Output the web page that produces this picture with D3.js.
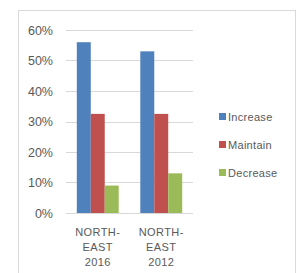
<!DOCTYPE html>
<html>
<head>
<meta charset="utf-8">
<script src="https://cdn.jsdelivr.net/npm/d3@7"></script>
<style>
  body { margin: 0; background: #fff; }
</style>
</head>
<body>
<div id="chart"></div>
<script>
const groups = ["NORTH-EAST 2016", "NORTH-EAST 2012"];
const groupLines = [["NORTH-", "EAST", "2016"], ["NORTH-", "EAST", "2012"]];
const seriesNames = ["Increase", "Maintain", "Decrease"];
const increase = [0.56, 0.53];
const maintain = [0.325, 0.325];
const decrease = [0.09, 0.13];
const yTicks = [0, 0.1, 0.2, 0.3, 0.4, 0.5, 0.6];
const colors = ["#4F81BD", "#C0504D", "#9BBB59"];

const values = [increase, maintain, decrease];
const rows = groups.map((g, i) => ({ group: g, vals: values.map(v => v[i]) }));

const W = 297, H = 273;
const svg = d3.select("#chart").append("svg")
    .attr("width", W).attr("height", H);

// chart area border
svg.append("rect")
    .attr("x", 18.5).attr("y", 10.5)
    .attr("width", 277).attr("height", 280)
    .attr("fill", "#fff")
    .attr("stroke", "#d9d9d9");

const plot = { left: 66, right: 193, top: 30, bottom: 213 };

const x = d3.scaleBand()
    .domain(groups)
    .range([plot.left, plot.right])
    .paddingInner(0.34)
    .paddingOuter(0.17);

const xs = d3.scaleBand()
    .domain(seriesNames)
    .range([0, x.bandwidth()]);

const y = d3.scaleLinear()
    .domain([0, 0.6])
    .range([plot.bottom, plot.top]);

// gridlines
svg.append("g")
    .selectAll("line")
    .data(yTicks)
    .join("line")
    .attr("x1", plot.left).attr("x2", plot.right)
    .attr("y1", d => Math.round(y(d)) + 0.5)
    .attr("y2", d => Math.round(y(d)) + 0.5)
    .attr("stroke", "#d9d9d9");

// y axis labels
const yAxis = svg.append("g")
    .attr("transform", `translate(${plot.left},0)`)
    .call(d3.axisLeft(y).tickValues(yTicks).tickFormat(d3.format(".0%")).tickSize(0).tickPadding(13));
yAxis.select(".domain").remove();
yAxis.selectAll("text")
    .attr("fill", "#595959")
    .style("font", "12.5px 'Liberation Sans', Arial, sans-serif");

// bars
svg.append("g")
    .selectAll("g")
    .data(rows)
    .join("g")
    .attr("transform", d => `translate(${x(d.group)},0)`)
    .selectAll("rect")
    .data(d => d.vals.map((v, i) => ({ key: seriesNames[i], v, i })))
    .join("rect")
    .attr("x", d => xs(d.key))
    .attr("y", d => y(d.v))
    .attr("width", xs.bandwidth())
    .attr("height", d => y(0) - y(d.v))
    .attr("fill", d => colors[d.i]);

// x labels
const xl = svg.append("g")
    .selectAll("text")
    .data(groups)
    .join("text")
    .attr("x", d => x(d) + x.bandwidth() / 2)
    .attr("y", 236)
    .attr("text-anchor", "middle")
    .attr("fill", "#595959")
    .style("font", "11px 'Liberation Sans', Arial, sans-serif")
    .style("letter-spacing", "0.4px");
xl.selectAll("tspan")
    .data((d, i) => groupLines[i])
    .join("tspan")
    .attr("x", function () { return this.parentNode.getAttribute("x"); })
    .attr("dy", (d, i) => i === 0 ? 0 : 15)
    .text(d => d);

// legend
const legend = svg.append("g")
    .selectAll("g")
    .data(seriesNames)
    .join("g")
    .attr("transform", (d, i) => `translate(219,${117 + i * 28})`);
legend.append("rect")
    .attr("x", 0).attr("y", -4)
    .attr("width", 7).attr("height", 7)
    .attr("fill", (d, i) => colors[i]);
legend.append("text")
    .attr("x", 9).attr("y", 4)
    .attr("fill", "#595959")
    .style("font", "11px 'Liberation Sans', Arial, sans-serif")
    .style("letter-spacing", "0.3px")
    .text(d => d);
</script>
</body>
</html>
